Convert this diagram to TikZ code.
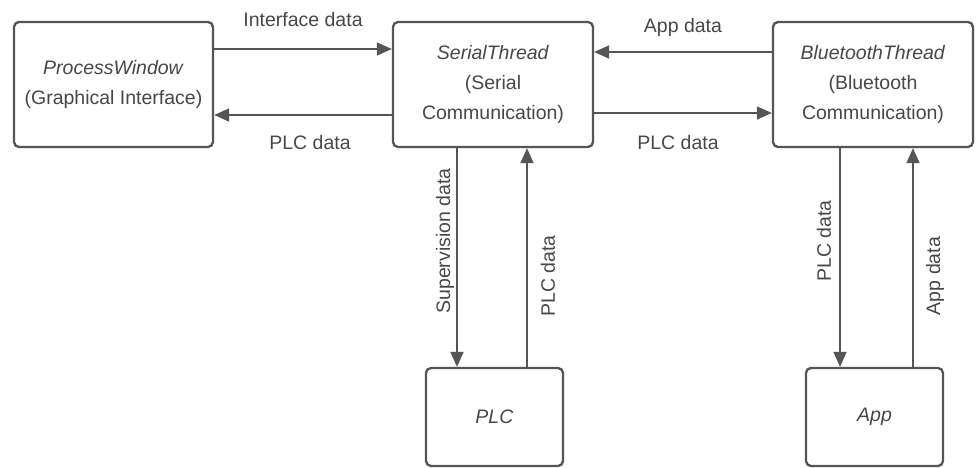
\documentclass[tikz,border=0pt]{standalone}
\usepackage{fontspec}
\setmainfont{Liberation Sans}
\usetikzlibrary{arrows.meta}
\definecolor{lc}{HTML}{555555}
\definecolor{tc}{HTML}{474747}
\tikzset{
  box/.style={draw=lc, line width=2.3pt, rounded corners=5pt, align=center,
    text=tc, font=\fontsize{19.5}{30}\selectfont, inner sep=0pt},
  arr/.style={draw=lc, line width=1.6pt, -{Triangle[length=15pt,width=13pt]}},
  lbl/.style={text=tc, font=\fontsize{19.5}{24}\selectfont, inner sep=0pt},
}
\begin{document}
\begin{tikzpicture}[x=1pt,y=-1pt]
\useasboundingbox (0,0) rectangle (980,467);
\node[box, minimum width=199pt, minimum height=125pt] (pw) at (113.5,84.5)
  {\textit{ProcessWindow}\\(Graphical Interface)};
\node[box, minimum width=200pt, minimum height=125pt] (st) at (493,84.5)
  {\textit{SerialThread}\\(Serial\\Communication)};
\node[box, minimum width=200pt, minimum height=125pt] (bt) at (873,84.5)
  {\textit{BluetoothThread}\\(Bluetooth\\Communication)};
\node[box, minimum width=137pt, minimum height=98pt] (plc) at (494.5,417) {\textit{PLC}};
\node[box, minimum width=137pt, minimum height=98pt] (app) at (874.5,417) {\textit{App}};

\coordinate (ya) at (0,49);
\coordinate (yb) at (0,115);
\coordinate (yc) at (0,52);
\coordinate (yd) at (0,113);
\coordinate (xa) at (457,0);
\coordinate (xb) at (527,0);
\coordinate (xc) at (840,0);
\coordinate (xd) at (913,0);

\draw[arr] (pw.east |- ya) -- (st.west |- ya);
\draw[arr] (st.west |- yb) -- (pw.east |- yb);
\draw[arr] (bt.west |- yc) -- (st.east |- yc);
\draw[arr] (st.east |- yd) -- (bt.west |- yd);
\draw[arr] (st.south -| xa) -- (plc.north -| xa);
\draw[arr] (plc.north -| xb) -- (st.south -| xb);
\draw[arr] (bt.south -| xc) -- (app.north -| xc);
\draw[arr] (app.north -| xd) -- (bt.south -| xd);

\node[lbl] (l1) at (303,20) {Interface data};
\node[lbl] (l2) at (310,143) {PLC data};
\node[lbl] (l3) at (683,27) {App data};
\node[lbl] (l4) at (678,143) {PLC data};
\node[lbl, rotate=90] (l5) at (445,241) {Supervision data};
\node[lbl, rotate=90] (l6) at (548,276) {PLC data};
\node[lbl, rotate=90] (l7) at (824,241) {PLC data};
\node[lbl, rotate=90] (l8) at (935,276) {App data};
\end{tikzpicture}
\end{document}
